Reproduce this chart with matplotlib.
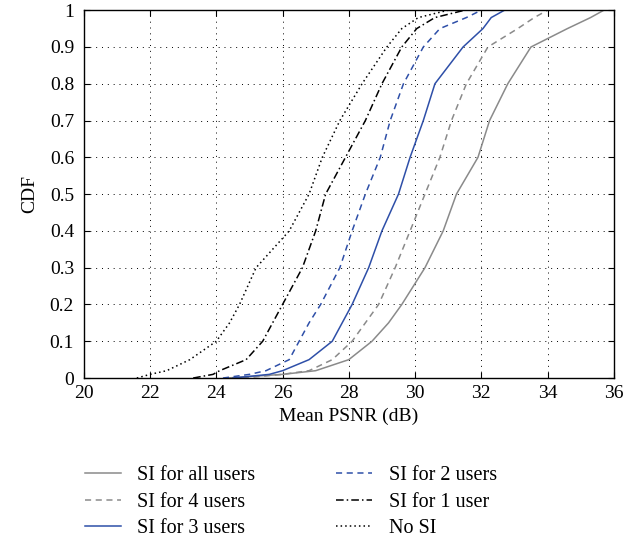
import numpy as np
import matplotlib.pyplot as plt

plt.rcParams['font.family'] = ['Liberation Serif', 'DejaVu Serif']

# CDF points (x = mean PSNR in dB, y = CDF)
cdf_levels = [0, 0.01, 0.02, 0.05, 0.1, 0.15, 0.2, 0.3, 0.4, 0.5, 0.6, 0.7, 0.8, 0.9, 0.95, 0.98, 1.0]

si_all = [24.3, 26.0, 27.0, 28.0, 28.7, 29.2, 29.6, 30.3, 30.85, 31.25, 31.9, 32.25, 32.8, 33.5, 34.6, 35.3, 35.7]
si_4 = [24.8, 26.0, 26.8, 27.5, 28.1, 28.5, 28.9, 29.4, 29.85, 30.3, 30.75, 31.1, 31.55, 32.2, 33.1, 33.6, 34.0]
si_3 = [24.5, 25.6, 26.0, 26.8, 27.5, 27.8, 28.1, 28.6, 29.0, 29.5, 29.85, 30.25, 30.6, 31.45, 32.05, 32.3, 32.7]
si_2 = [24.2, 25.0, 25.5, 26.2, 26.5, 26.8, 27.15, 27.73, 28.1, 28.5, 28.95, 29.25, 29.65, 30.25, 30.75, 31.55, 32.0]
si_1 = [23.3, 23.9, 24.1, 24.9, 25.4, 25.7, 26.0, 26.6, 27.0, 27.3, 27.9, 28.5, 29.0, 29.6, 30.05, 30.6, 31.5]
no_si = [21.6, 22.0, 22.5, 23.2, 24.0, 24.4, 24.7, 25.2, 26.2, 26.8, 27.2, 27.73, 28.4, 29.15, 29.6, 30.1, 31.0]

labels = ['SI for all users', 'SI for 4 users', 'SI for 3 users',
          'SI for 2 users', 'SI for 1 user', 'No SI']

gray = '#8a8a8a'
blue = '#2e4fa8'

fig = plt.figure(figsize=(6.4, 5.37), dpi=100)
ax = fig.add_axes([0.131, 0.296, 0.828, 0.685])

ax.plot(si_all, cdf_levels, color=gray, lw=1.1, ls='-', label=labels[0])
ax.plot(si_4, cdf_levels, color=gray, lw=1.1, ls=(0, (4, 3)), label=labels[1])
ax.plot(si_3, cdf_levels, color=blue, lw=1.1, ls='-', label=labels[2])
ax.plot(si_2, cdf_levels, color=blue, lw=1.1, ls=(0, (4, 3)), label=labels[3])
ax.plot(si_1, cdf_levels, color='black', lw=1.1, ls=(0, (5, 2, 1, 2)), label=labels[4])
ax.plot(no_si, cdf_levels, color='black', lw=1.1, ls=(0, (1, 2)), label=labels[5])

ax.set_xlim(20, 36)
ax.set_ylim(0, 1)
ax.set_xticks(np.arange(20, 37, 2))
ax.set_yticks(np.arange(0, 1.01, 0.1))
ax.set_yticklabels(['0', '0.1', '0.2', '0.3', '0.4', '0.5', '0.6', '0.7', '0.8', '0.9', '1'])
ax.tick_params(direction='in', top=True, right=True, labelsize=14, length=4)
ax.tick_params(axis='y', pad=7)
ax.tick_params(axis='x', pad=5)
ax.grid(True, color='black', ls=(0, (1, 5)), lw=0.7)
for s in ax.spines.values():
    s.set_linewidth(1.0)

ax.set_xlabel('Mean PSNR (dB)', fontsize=14, labelpad=4)
ax.set_ylabel('CDF', fontsize=14, labelpad=8)

ax.legend(loc='upper left', bbox_to_anchor=(0.133, 0.132), bbox_transform=fig.transFigure,
          ncol=2, frameon=False, borderaxespad=0, borderpad=0, fontsize=14.5,
          handlelength=1.8, handletextpad=0.8, columnspacing=4.0, labelspacing=0.37)

fig.savefig('out.png', dpi=100)
